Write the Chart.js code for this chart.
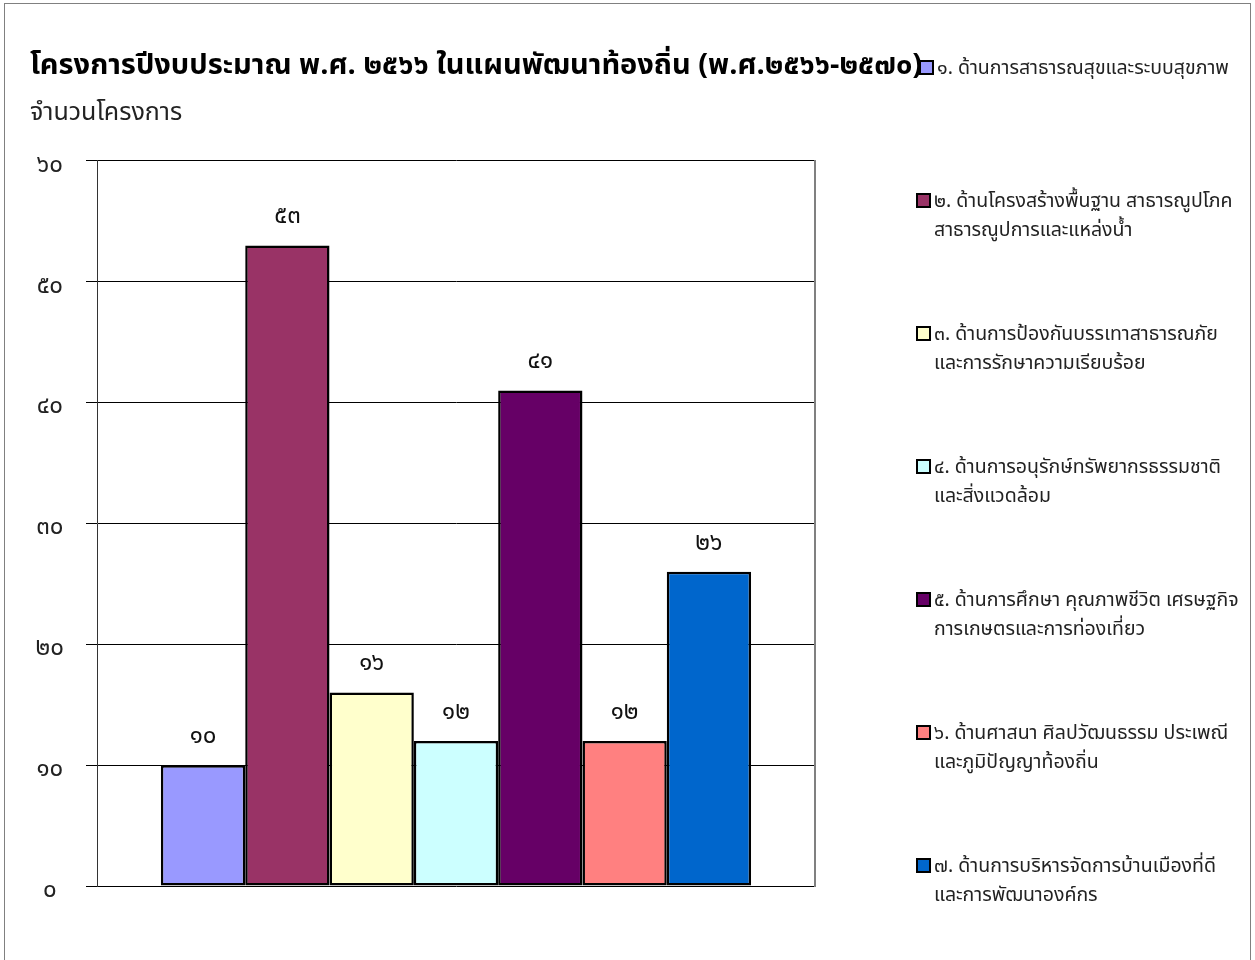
<!DOCTYPE html>
<html>
<head>
<meta charset="utf-8">
<script src="https://cdn.jsdelivr.net/npm/chart.js@4.4.1/dist/chart.umd.min.js"></script>
<style>
  html, body { margin: 0; padding: 0; background: #fff; }
  #wrap { width: 1255px; height: 960px; }
</style>
</head>
<body>
<div id="wrap"><canvas id="chart" width="1255" height="960"></canvas></div>
<script>
const FONT = "'Noto Sans Thai', 'Noto Sans', 'Tahoma', sans-serif";

const titleText = "โครงการปีงบประมาณ พ.ศ. ๒๕๖๖ ในแผนพัฒนาท้องถิ่น (พ.ศ.๒๕๖๖-๒๕๗๐)";
const yTitle = "จำนวนโครงการ";

// legend text, split into the lines used in the picture
const categories = [
  ["๑. ด้านการสาธารณสุขและระบบสุขภาพ"],
  ["๒. ด้านโครงสร้างพื้นฐาน สาธารณูปโภค", "สาธารณูปการและแหล่งน้ำ"],
  ["๓. ด้านการป้องกันบรรเทาสาธารณภัย", "และการรักษาความเรียบร้อย"],
  ["๔. ด้านการอนุรักษ์ทรัพยากรธรรมชาติ", "และสิ่งแวดล้อม"],
  ["๕. ด้านการศึกษา คุณภาพชีวิต เศรษฐกิจ", "การเกษตรและการท่องเที่ยว"],
  ["๖. ด้านศาสนา ศิลปวัฒนธรรม ประเพณี", "และภูมิปัญญาท้องถิ่น"],
  ["๗. ด้านการบริหารจัดการบ้านเมืองที่ดี", "และการพัฒนาองค์กร"],
];
const projectCounts = [10, 53, 16, 12, 41, 12, 26];
const colors = ["#9999FF", "#993366", "#FFFFCC", "#CCFFFF", "#660066", "#FF8080", "#0066CC"];
const yTicks = [0, 10, 20, 30, 40, 50, 60];

const thai = n => String(n).replace(/\d/g, d => "๐๑๒๓๔๕๖๗๘๙"[d]);

const datasets = categories.map((lines, i) => ({
  label: lines.join(""),
  data: [projectCounts[i]],
  backgroundColor: colors[i],
  borderColor: "#000",
  borderWidth: 2.5,
  borderSkipped: false,
  barPercentage: 1,
  categoryPercentage: 0.822,
}));

const frame = {
  id: "frame",
  beforeDraw(c) {
    const g = c.ctx;
    g.save();
    g.fillStyle = "#fff";
    g.fillRect(0, 0, c.width, c.height);
    g.strokeStyle = "#808080";
    g.lineWidth = 1;
    g.strokeRect(4.5, 3.5, 1246, 960);
    g.restore();
  },
};

const valueLabels = {
  id: "valueLabels",
  afterDatasetsDraw(c) {
    const g = c.ctx;
    g.save();
    g.font = "24px " + FONT;
    g.fillStyle = "#111";
    g.textAlign = "center";
    g.textBaseline = "middle";
    c.data.datasets.forEach((ds, i) => {
      const bar = c.getDatasetMeta(i).data[0];
      g.fillText(thai(ds.data[0]), bar.x, bar.y - 27);
    });
    g.restore();
  },
};

const sideLegend = {
  id: "sideLegend",
  afterDraw(c) {
    const g = c.ctx;
    g.save();
    g.font = "19.5px " + FONT;
    g.textBaseline = "middle";
    categories.forEach((lines, i) => {
      const y = 70 + i * 133;
      const bx = i === 0 ? 920 : 917;
      g.fillStyle = colors[i];
      g.fillRect(bx, y - 9, 13, 13);
      g.strokeStyle = "#000";
      g.lineWidth = 2;
      g.strokeRect(bx, y - 9, 13, 13);
      g.fillStyle = "#222";
      lines.forEach((t, k) => g.fillText(t, bx + 17, y + k * 29));
    });
    g.restore();
  },
};

new Chart(document.getElementById("chart"), {
  type: "bar",
  data: { labels: [""], datasets },
  plugins: [frame, valueLabels, sideLegend],
  options: {
    responsive: false,
    animation: false,
    layout: { padding: { left: 30, right: 0, top: 40, bottom: 74 } },
    plugins: {
      legend: { display: false },
      tooltip: { enabled: false },
      title: {
        display: true, text: titleText, align: "start", color: "#000",
        font: { family: FONT, size: 29, weight: "bold" },
        padding: { top: 11, bottom: 14 },
      },
      subtitle: {
        display: true, text: yTitle, align: "start", color: "#222",
        font: { family: FONT, size: 25 },
        padding: { top: 0, bottom: 31 },
      },
    },
    scales: {
      x: { display: false },
      y: {
        min: 0, max: 60,
        afterFit: s => { s.width = 67; },
        afterBuildTicks: s => { s.ticks = yTicks.map(v => ({ value: v })); },
        ticks: {
          callback: v => thai(v),
          crossAlign: "center",
          padding: 22,
          labelOffset: 6,
          color: "#222",
          font: { family: FONT, size: 24 },
        },
        grid: { color: "#000", lineWidth: 1, tickLength: 11 },
        border: { color: "#333", width: 1 },
      },
      // right edge of the plot; its box also reserves the legend column
      y1: {
        position: "right",
        min: 0, max: 60,
        afterFit: s => { s.width = 440; },
        ticks: { display: false },
        grid: { display: false, drawTicks: false },
        border: { color: "#808080", width: 2 },
      },
    },
  },
});
</script>
</body>
</html>
